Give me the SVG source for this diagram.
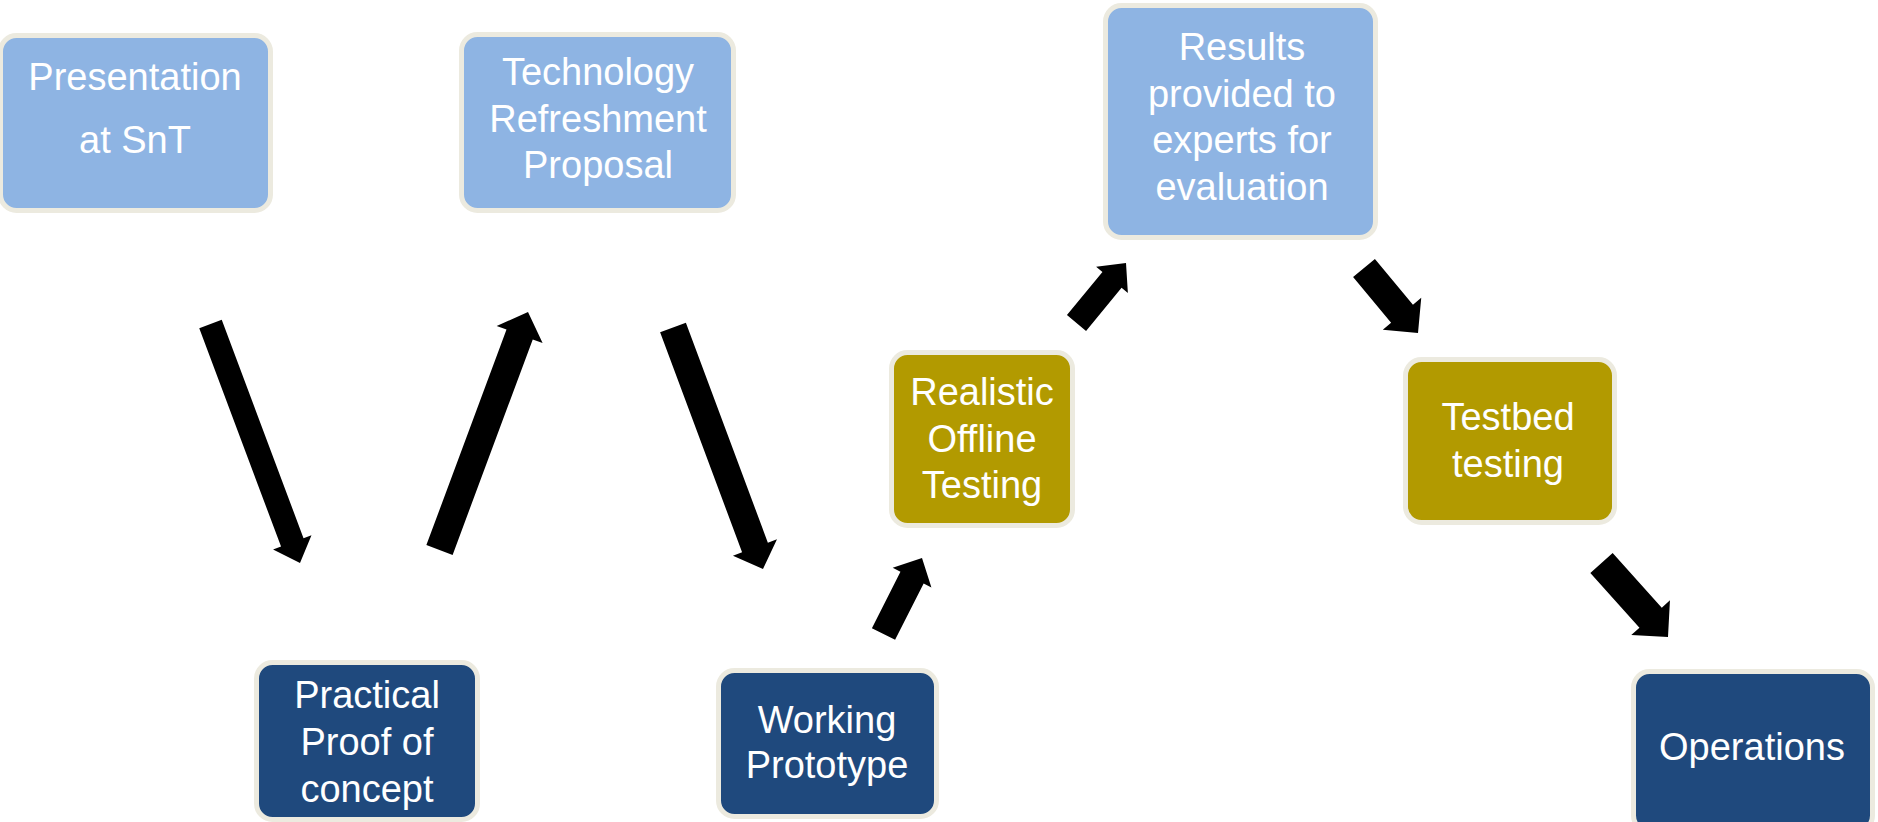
<svg xmlns="http://www.w3.org/2000/svg" width="1878" height="822" viewBox="0 0 1878 822">
<style>
.box{stroke:#ECEADF;stroke-width:5}
.lb{fill:#8EB4E3}
.nv{fill:#1F497D}
.ol{fill:#B29A00}
text{font-family:"Liberation Sans",Arial,sans-serif;font-size:38px;fill:#FFFFFF;text-anchor:middle}
.arr{fill:#000000}
</style>
<rect width="1878" height="822" fill="#FFFFFF"/>
<g id="connectors">
<polygon class="arr" points="199.26,328.21 281.04,546.61 273.08,549.59 300,563 311.48,535.21 303.52,538.19 221.74,319.79"/>
<polygon class="arr" points="452.62,554.88 532.75,339.38 542.60,343.04 528,312 496.66,325.96 506.51,329.62 426.38,545.12"/>
<polygon class="arr" points="660.11,332.30 742.08,552.25 732.95,555.66 763,569 776.99,539.24 767.86,542.65 685.89,322.70"/>
<polygon class="arr" points="895.10,639.87 923.66,583.49 931.42,587.43 922,558 892.70,567.81 900.46,571.75 871.90,628.13"/>
<polygon class="arr" points="1086.06,330.89 1121.56,287.86 1127.89,293.08 1126,263 1096.11,266.86 1102.44,272.08 1066.94,315.11"/>
<polygon class="arr" points="1353.08,277.07 1391.10,322.84 1382.79,329.75 1418,333 1421.25,297.79 1412.94,304.70 1374.92,258.93"/>
<polygon class="arr" points="1590.34,573.02 1639.46,627.68 1631.28,635.04 1668,637 1669.96,600.28 1661.78,607.64 1612.66,552.98"/>
</g>
<g id="node-presentation">
<rect class="box lb" x="0.5" y="35.5" width="270" height="175" rx="16"/>
<text x="135" y="90">Presentation</text>
<text x="135" y="153">at SnT</text>
</g>
<g id="node-technology">
<rect class="box lb" x="461.5" y="34.5" width="272" height="176" rx="16"/>
<text x="598" y="85">Technology</text>
<text x="598" y="132">Refreshment</text>
<text x="598" y="178">Proposal</text>
</g>
<g id="node-results">
<rect class="box lb" x="1105.5" y="5.5" width="270" height="232" rx="16"/>
<text x="1242" y="60">Results</text>
<text x="1242" y="107">provided to</text>
<text x="1242" y="153">experts for</text>
<text x="1242" y="200">evaluation</text>
</g>
<g id="node-practical">
<rect class="box nv" x="256.5" y="662.5" width="221" height="157" rx="16"/>
<text x="367" y="708">Practical</text>
<text x="367" y="755">Proof of</text>
<text x="367" y="802">concept</text>
</g>
<g id="node-working">
<rect class="box nv" x="718.5" y="670.5" width="218" height="146" rx="16"/>
<text x="827" y="733">Working</text>
<text x="827" y="778">Prototype</text>
</g>
<g id="node-realistic">
<rect class="box ol" x="891.5" y="352.5" width="181" height="173" rx="16"/>
<text x="982" y="405">Realistic</text>
<text x="982" y="452">Offline</text>
<text x="982" y="498">Testing</text>
</g>
<g id="node-testbed">
<rect class="box ol" x="1405.5" y="359.5" width="209" height="163" rx="16"/>
<text x="1508" y="430">Testbed</text>
<text x="1508" y="477">testing</text>
</g>
<g id="node-operations">
<rect class="box nv" x="1633.5" y="671.5" width="239" height="160" rx="16"/>
<text x="1752" y="760">Operations</text>
</g>
</svg>
